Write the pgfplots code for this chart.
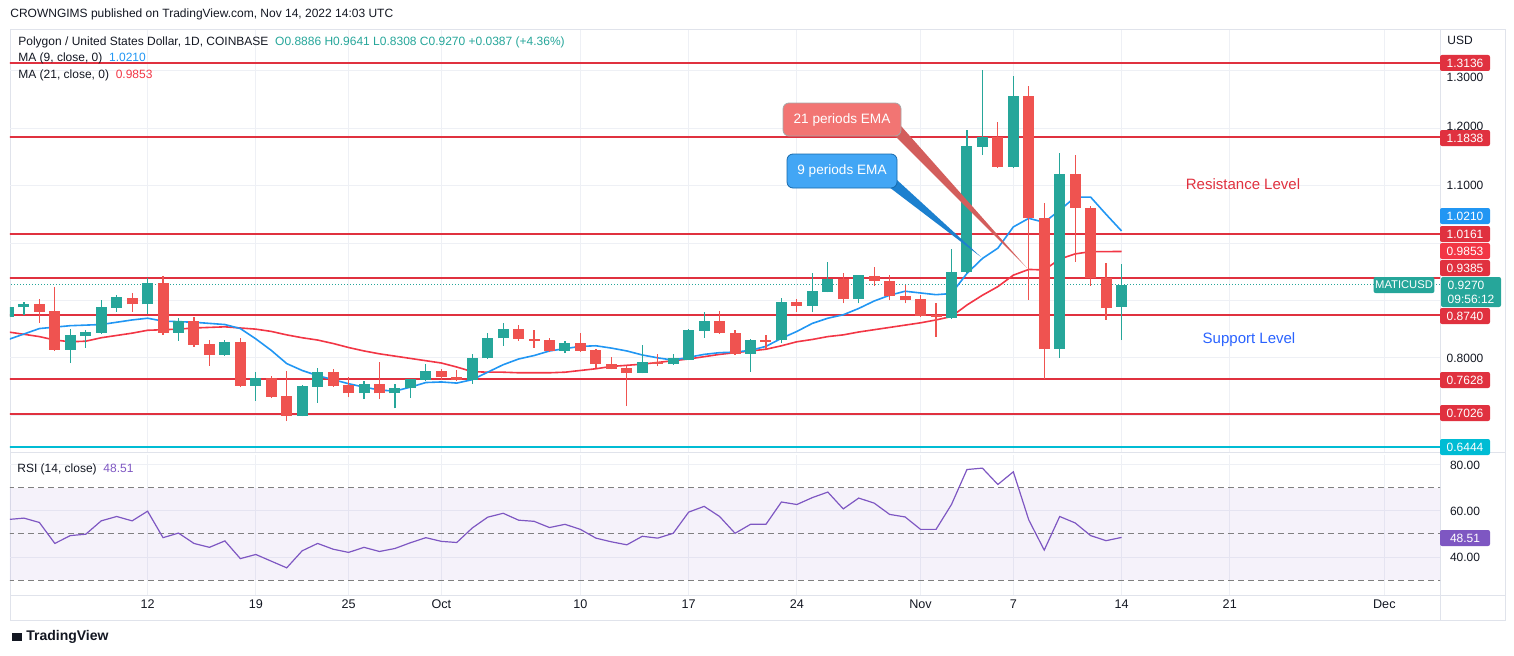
\documentclass[border=0pt]{standalone}
\usepackage{pgfplots}
\pgfplotsset{compat=1.18}
\usepackage{pgfplotstable}
\usepackage{fontspec}
\setmainfont{Liberation Sans}
\definecolor{tvg}{HTML}{26A69A}
\definecolor{tvr}{HTML}{EF5350}
\definecolor{lvl}{HTML}{E0313F}
\definecolor{emab}{HTML}{2196F3}
\definecolor{emar}{HTML}{F23645}
\definecolor{rsic}{HTML}{7E57C2}
\definecolor{gridc}{HTML}{EEF0F5}
\definecolor{bordc}{HTML}{E0E3EB}
\definecolor{txt}{HTML}{131722}
\definecolor{cyanl}{HTML}{00BCD4}
\definecolor{supb}{HTML}{2962FF}
\newcommand\pp[2]{({#1*0.5pt},{(655-#2)*0.5pt})}
\pgfplotstableread{
d o h l c
-72 .872 .893 .870 .889
-71 .888 .897 .875 .894
-68 .814 .850 .791 .839
-67 .838 .849 .818 .845
-66 .844 .901 .842 .889
-65 .887 .910 .880 .906
-63 .893 .939 .877 .931
-61 .844 .869 .830 .864
-58 .805 .831 .804 .827
-56 .751 .775 .725 .765
-53 .699 .752 .698 .751
-52 .750 .783 .722 .776
-49 .738 .760 .728 .755
-47 .738 .754 .712 .748
-46 .747 .764 .730 .763
-45 .762 .789 .760 .777
-42 .761 .806 .755 .799
-41 .799 .843 .798 .834
-40 .834 .861 .821 .850
-36 .812 .829 .808 .825
-31 .774 .822 .773 .793
-29 .789 .806 .788 .800
-28 .797 .850 .796 .848
-27 .847 .880 .835 .864
-24 .807 .832 .776 .831
-22 .831 .905 .825 .898
-20 .891 .947 .879 .917
-19 .915 .967 .914 .937
-17 .902 .945 .895 .944
-11 .870 .989 .868 .949
-10 .949 1.197 .947 1.169
-9 1.168 1.302 1.153 1.184
-7 1.133 1.291 1.130 1.256
-4 .815 1.156 .800 1.120
0 .8886 .9641 .8308 .9270
}\green
\pgfplotstableread{
d o h l c
-70 .894 .902 .861 .880
-69 .882 .924 .812 .814
-64 .904 .913 .880 .893
-62 .931 .943 .840 .844
-60 .864 .872 .819 .823
-59 .824 .831 .786 .805
-57 .827 .835 .749 .751
-55 .765 .768 .730 .732
-54 .733 .777 .690 .699
-51 .776 .781 .750 .751
-50 .753 .767 .731 .738
-48 .755 .793 .728 .738
-44 .777 .781 .762 .766
-43 .766 .779 .760 .761
-39 .850 .858 .830 .833
-38 .833 .849 .818 .830
-37 .831 .834 .810 .812
-35 .825 .843 .811 .812
-34 .814 .815 .783 .789
-33 .789 .801 .780 .781
-32 .783 .785 .716 .774
-30 .793 .806 .785 .789
-26 .864 .882 .842 .843
-25 .844 .849 .805 .807
-23 .831 .840 .815 .828
-21 .897 .903 .880 .891
-18 .937 .947 .895 .902
-16 .943 .958 .925 .934
-15 .934 .945 .900 .907
-14 .907 .927 .895 .901
-13 .902 .909 .872 .873
-12 .874 .895 .837 .872
-8 1.184 1.211 1.131 1.133
-6 1.256 1.274 .901 1.043
-5 1.043 1.070 .763 .815
-3 1.120 1.154 .967 1.061
-2 1.061 1.065 .925 .939
-1 .939 .966 .866 .886
}\red
\begin{document}
\fontsize{6}{7}\selectfont
\begin{tikzpicture}[x=1pt,y=1pt]
\path (0,0) rectangle (757pt,327.5pt);
\draw[bordc,line width=0.5pt] \pp{10}{30} rectangle \pp{1505}{620};
\draw[bordc,line width=0.5pt] \pp{10}{452} -- \pp{1505}{452};
\draw[bordc,line width=0.5pt] \pp{10}{595} -- \pp{1505}{595};
\draw[bordc,line width=0.5pt] \pp{1440}{30} -- \pp{1440}{620};
\begin{axis}[at={(5pt,101.5pt)}, anchor=south west, scale only axis,
  width=715pt, height=211pt, xmin=-71.9, xmax=20.6, ymin=0.636, ymax=1.371,
  axis line style={draw=none}, ticks=none,
  extra x ticks={-63,-56,-50,-44,-35,-28,-21,-13,-7,0,7,17}, extra x tick labels={},
  extra y ticks={0.7,0.8,0.9,1.0,1.1,1.2,1.3}, extra y tick labels={},
  extra tick style={grid=major, major grid style={gridc,line width=0.5pt}, major tick length=0pt},
  clip=true]
\foreach \v/\c in {1.3136/lvl,1.1838/lvl,1.0161/lvl,0.9385/lvl,0.8740/lvl,0.7628/lvl,0.7026/lvl,0.6444/cyanl}{
 \edef\tmp{\noexpand\addplot[\c, line width=1pt] coordinates {(-72,\v) (21,\v)};}\tmp}
\addplot[tvg, densely dotted, line width=0.5pt] coordinates {(-72,0.927) (21,0.927)};
\addplot[emar, line width=0.8pt] coordinates {(-72,.845)(-70,.837)(-69,.831)(-68,.828)(-67,.829)(-66,.835)(-65,.839)(-64,.843)(-63,.848)(-62,.849)(-61,.850)(-60,.852)(-59,.853)(-58,.854)(-57,.852)(-56,.850)(-55,.846)(-54,.840)(-53,.835)(-52,.831)(-51,.825)(-50,.818)(-49,.812)(-48,.807)(-47,.803)(-46,.799)(-45,.795)(-44,.791)(-43,.784)(-42,.776)(-41,.775)(-40,.775)(-39,.774)(-38,.774)(-37,.774)(-36,.775)(-35,.778)(-34,.781)(-33,.785)(-32,.787)(-31,.789)(-30,.792)(-29,.795)(-28,.798)(-27,.802)(-26,.806)(-25,.809)(-24,.812)(-23,.815)(-22,.821)(-21,.828)(-20,.832)(-19,.837)(-18,.840)(-17,.845)(-16,.849)(-15,.853)(-14,.857)(-13,.861)(-12,.866)(-11,.872)(-10,.892)(-9,.909)(-8,.924)(-7,.944)(-6,.954)(-5,.953)(-4,.972)(-3,.981)(-2,.985)(-1,.985)(0,.9853)};
\addplot[emab, line width=0.8pt] coordinates {(-72,.832)(-70,.851)(-68,.856)(-66,.858)(-64,.866)(-63,.869)(-62,.864)(-60,.862)(-59,.860)(-58,.858)(-57,.851)(-56,.833)(-55,.813)(-54,.790)(-53,.778)(-52,.769)(-51,.762)(-50,.755)(-49,.749)(-48,.744)(-47,.742)(-46,.749)(-45,.757)(-44,.758)(-43,.756)(-42,.762)(-41,.775)(-40,.788)(-39,.798)(-38,.804)(-37,.812)(-36,.816)(-35,.820)(-34,.821)(-33,.817)(-32,.812)(-31,.805)(-30,.800)(-29,.796)(-28,.801)(-27,.806)(-26,.809)(-25,.810)(-24,.813)(-23,.820)(-22,.834)(-21,.846)(-20,.860)(-19,.869)(-18,.875)(-17,.886)(-16,.899)(-15,.909)(-14,.916)(-13,.913)(-12,.910)(-11,.912)(-10,.947)(-9,.973)(-8,.991)(-7,1.028)(-6,1.043)(-5,1.036)(-4,1.057)(-3,1.080)(-2,1.080)(-1,1.050)(0,1.021)};
\addplot[draw=none, mark=none, error bars/.cd, y dir=plus, y explicit, error mark=none,
  error bar style={draw=tvg, line width=0.6pt}] table[x=d, y=l, y error expr=\thisrow{h}-\thisrow{l}] {\green};
\addplot[draw=none, mark=none, error bars/.cd, y dir=plus, y explicit, error mark=none,
  error bar style={draw=tvr, line width=0.6pt}] table[x=d, y=l, y error expr=\thisrow{h}-\thisrow{l}] {\red};
\addplot[draw=none, mark=none, error bars/.cd, y dir=plus, y explicit, error mark=none,
  error bar style={draw=tvg, line width=5.5pt}] table[x=d, y=o, y error expr=\thisrow{c}-\thisrow{o}] {\green};
\addplot[draw=none, mark=none, error bars/.cd, y dir=plus, y explicit, error mark=none,
  error bar style={draw=tvr, line width=5.5pt}] table[x=d, y=c, y error expr=\thisrow{o}-\thisrow{c}] {\red};
\end{axis}
\begin{axis}[at={(5pt,30pt)}, anchor=south west, scale only axis,
  width=715pt, height=70pt, xmin=-71.9, xmax=20.6, ymin=23.5, ymax=84.3,
  axis line style={draw=none}, ytick=\empty,
  xtick={-63,-56,-50,-44,-35,-28,-21,-13,-7,0,7,17},
  xticklabels={12,19,25,Oct,10,17,24,Nov,7,14,21,Dec},
  xticklabel style={font=\fontsize{6.3}{7}\selectfont, text=txt},
  major tick length=0pt, xmajorgrids, grid style={gridc,line width=0.5pt},
  extra y ticks={40,60,80}, extra y tick labels={},
  extra y tick style={grid=major, major grid style={gridc,line width=0.5pt}},
  clip=true]
\fill[rsic, opacity=0.08] (axis cs:-72,30) rectangle (axis cs:21,70);
\foreach \v in {30,50,70}{\edef\tmp{\noexpand\addplot[gray, line width=0.5pt, dash pattern=on 3pt off 2pt] coordinates {(-72,\v) (21,\v)};}\tmp}
\addplot[rsic, line width=0.6pt] coordinates {(-72,56.3)(-71,56.9)(-70,55.0)(-69,45.9)(-68,49.3)(-67,49.9)(-66,55.7)(-65,57.6)(-64,55.7)(-63,59.9)(-62,48.4)(-61,50.4)(-60,45.9)(-59,44.2)(-58,47.0)(-57,39.3)(-56,41.1)(-55,38.2)(-54,35.3)(-53,42.7)(-52,45.9)(-51,43.4)(-50,42.0)(-49,44.2)(-48,42.4)(-47,43.7)(-46,46.2)(-45,48.4)(-44,46.8)(-43,46.3)(-42,52.6)(-41,57.3)(-40,59.0)(-39,56.0)(-38,55.5)(-37,52.8)(-36,54.2)(-35,52.0)(-34,48.2)(-33,46.6)(-32,45.3)(-31,49.0)(-30,48.2)(-29,50.3)(-28,59.5)(-27,62.0)(-26,57.6)(-25,50.3)(-24,54.2)(-23,54.2)(-22,63.9)(-21,62.8)(-20,65.8)(-19,68.2)(-18,60.9)(-17,65.6)(-16,63.4)(-15,58.5)(-14,57.4)(-13,52.0)(-12,52.0)(-11,62.8)(-10,78.0)(-9,78.6)(-8,71.5)(-7,77.0)(-6,56.1)(-5,43.0)(-4,57.6)(-3,54.8)(-2,49.3)(-1,47.1)(0,48.51)};
\end{axis}
\fill[tvr!75!gray] \pp{893}{134} -- \pp{901}{126} -- \pp{1027}{268} -- cycle;
\node[fill=tvr!80!white, draw=gray!70, rounded corners=3pt, text=white, minimum width=59pt, minimum height=16.5pt, font=\fontsize{6.8}{8}\selectfont] at \pp{842}{119.5} {21 periods EMA};
\fill[emab!85!black] \pp{889}{187} -- \pp{897}{180} -- \pp{981}{257} -- cycle;
\node[fill=emab!85!white, draw=emab!70!black, rounded corners=3pt, text=white, minimum width=55pt, minimum height=17pt, font=\fontsize{6.8}{8}\selectfont] at \pp{842}{171} {9 periods EMA};
\node[text=lvl, font=\fontsize{7.5}{9}\selectfont] at \pp{1243}{184} {Resistance Level};
\node[text=supb, font=\fontsize{7.5}{9}\selectfont] at \pp{1249}{340} {Support Level};
\node[anchor=west, text=txt, inner sep=0] at \pp{10}{14} {CROWNGIMS published on TradingView.com, Nov 14, 2022 14:03 UTC};
\node[anchor=west, text=txt, inner sep=0] at \pp{18}{42} {Polygon / United States Dollar, 1D, COINBASE\ \ \textcolor{tvg}{O0.8886 H0.9641 L0.8308 C0.9270 +0.0387 (+4.36\%)}};
\node[anchor=west, text=txt, inner sep=0] at \pp{18}{58} {MA (9, close, 0)\ \ \textcolor{emab}{1.0210}};
\node[anchor=west, text=txt, inner sep=0] at \pp{18}{75} {MA (21, close, 0)\ \ \textcolor{emar}{0.9853}};
\node[anchor=west, text=txt, inner sep=0] at \pp{17}{469} {RSI (14, close)\ \ \textcolor{rsic}{48.51}};
\node[anchor=west, text=txt, inner sep=0, font=\fontsize{7}{8}\selectfont\bfseries] at \pp{12}{637} {\rule{5pt}{4pt}\ TradingView};
\node[text=txt] at \pp{1460}{40} {USD};
\foreach \t/\y in {1.3000/77,1.2000/126,1.1000/185,0.8000/358,80.00/465,60.00/511,40.00/557}{\node[text=txt] at \pp{1465}{\y} {\t};}
\foreach \t/\y/\c in {1.3136/63/lvl,1.1838/138/lvl,1.0210/216/emab,1.0161/234/lvl,0.9853/251/emar,0.9385/268/lvl,0.8740/316/lvl,0.7628/380/lvl,0.7026/413/lvl,0.6444/447/cyanl,48.51/538/rsic}{
 \node[fill=\c, text=white, rounded corners=1pt, minimum width=25pt, minimum height=8pt, inner sep=0.5pt] at \pp{1465}{\y} {\t};}
\node[fill=tvg, text=white, rounded corners=1pt, minimum width=30pt, minimum height=15pt, inner sep=0.5pt, align=left] at \pp{1471}{292} {0.9270\\09:56:12};
\node[fill=tvg, text=white, rounded corners=1pt, minimum width=30pt, minimum height=8pt, inner sep=0.8pt, font=\fontsize{5.6}{6}\selectfont] at \pp{1404}{285} {MATICUSD};
\end{tikzpicture}
\end{document}
